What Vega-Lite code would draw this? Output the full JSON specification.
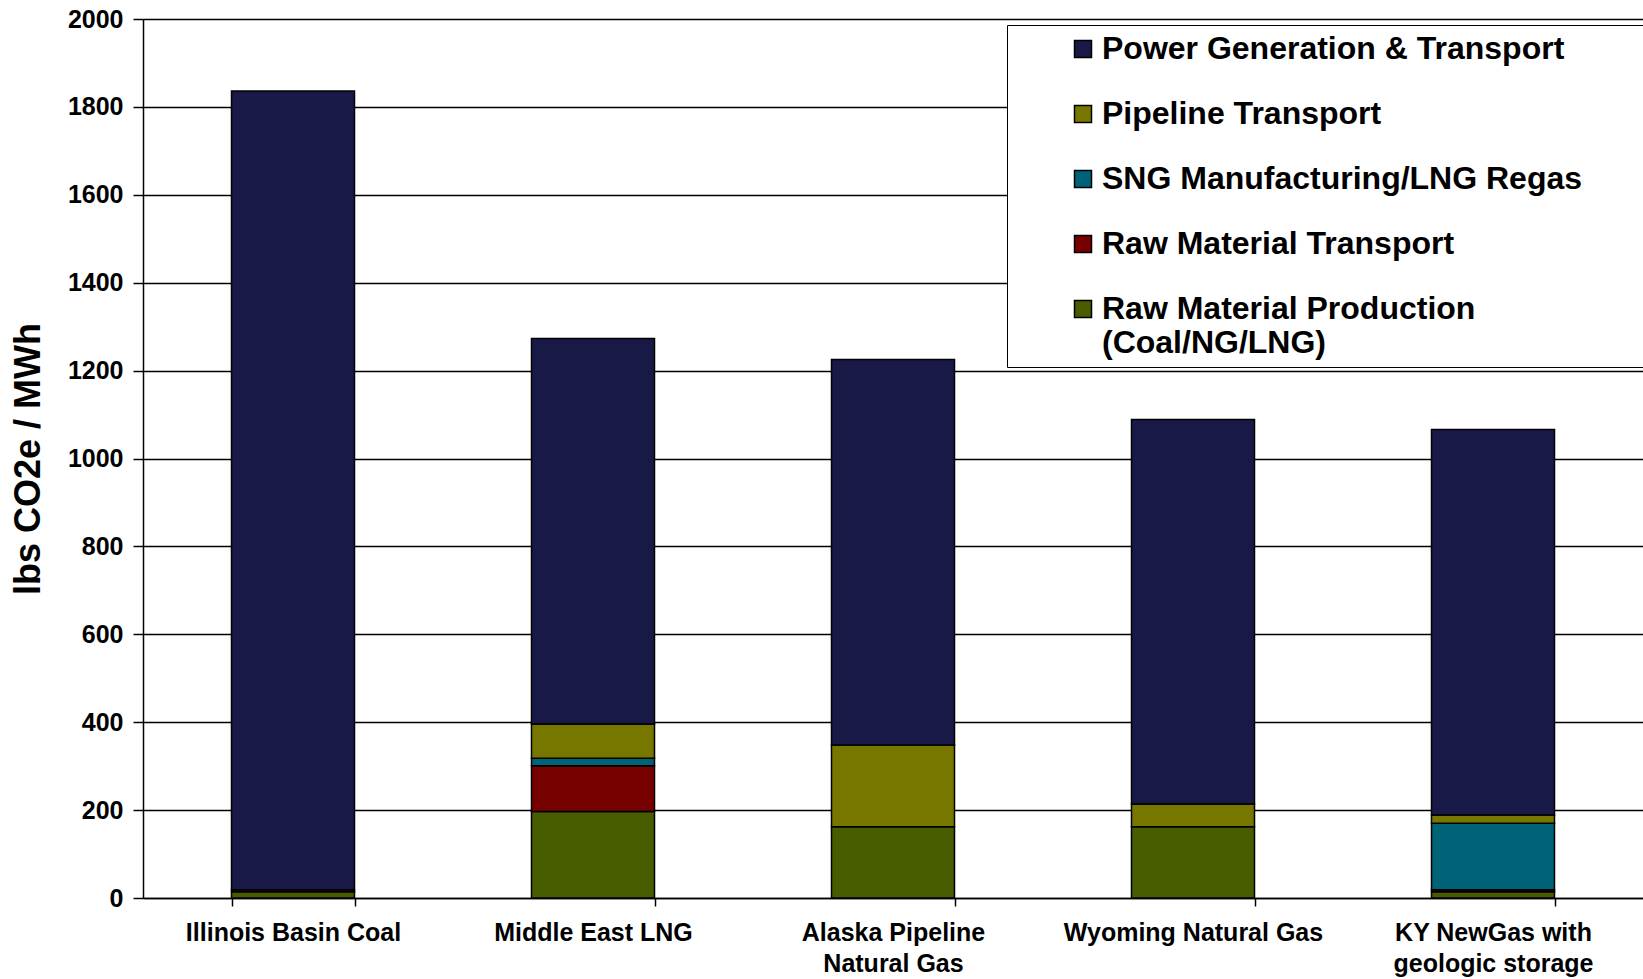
{
  "$schema": "https://vega.github.io/schema/vega-lite/v6.json",
  "width": 1500,
  "height": 879,
  "autosize": {"type": "none"},
  "padding": {"left": 143, "top": 19, "right": 0, "bottom": 81},
  "background": "white",
  "config": {
    "view": {"stroke": null},
    "font": "Liberation Sans"
  },
  "data": {
    "values": [
      {"src": "Illinois Basin Coal", "seg": "Raw Material Production (Coal/NG/LNG)", "v": 14},
      {"src": "Illinois Basin Coal", "seg": "Raw Material Transport", "v": 5},
      {"src": "Illinois Basin Coal", "seg": "Power Generation & Transport", "v": 1817},
      {"src": "Middle East LNG", "seg": "Raw Material Production (Coal/NG/LNG)", "v": 197},
      {"src": "Middle East LNG", "seg": "Raw Material Transport", "v": 104},
      {"src": "Middle East LNG", "seg": "SNG Manufacturing/LNG Regas", "v": 17},
      {"src": "Middle East LNG", "seg": "Pipeline Transport", "v": 78},
      {"src": "Middle East LNG", "seg": "Power Generation & Transport", "v": 877},
      {"src": "Alaska Pipeline Natural Gas", "seg": "Raw Material Production (Coal/NG/LNG)", "v": 162},
      {"src": "Alaska Pipeline Natural Gas", "seg": "Pipeline Transport", "v": 186},
      {"src": "Alaska Pipeline Natural Gas", "seg": "Power Generation & Transport", "v": 877},
      {"src": "Wyoming Natural Gas", "seg": "Raw Material Production (Coal/NG/LNG)", "v": 162},
      {"src": "Wyoming Natural Gas", "seg": "Pipeline Transport", "v": 52},
      {"src": "Wyoming Natural Gas", "seg": "Power Generation & Transport", "v": 875},
      {"src": "KY NewGas with geologic storage", "seg": "Raw Material Production (Coal/NG/LNG)", "v": 14},
      {"src": "KY NewGas with geologic storage", "seg": "Raw Material Transport", "v": 5},
      {"src": "KY NewGas with geologic storage", "seg": "SNG Manufacturing/LNG Regas", "v": 151},
      {"src": "KY NewGas with geologic storage", "seg": "Pipeline Transport", "v": 19},
      {"src": "KY NewGas with geologic storage", "seg": "Power Generation & Transport", "v": 877}
    ]
  },
  "transform": [
    {"calculate": "indexof(['Raw Material Production (Coal/NG/LNG)', 'Raw Material Transport', 'SNG Manufacturing/LNG Regas', 'Pipeline Transport', 'Power Generation & Transport'], datum.seg)", "as": "k"}
  ],
  "mark": {"type": "bar", "stroke": "black", "strokeWidth": 1.5},
  "encoding": {
    "x": {
      "field": "src",
      "type": "nominal",
      "sort": null,
      "scale": {"paddingInner": 0.59, "paddingOuter": 0.295},
      "axis": {
        "title": null,
        "labelAngle": 0,
        "labelFontSize": 25,
        "labelFontWeight": "bold",
        "labelColor": "black",
        "labelLineHeight": 31,
        "labelPadding": 14,
        "labelExpr": "datum.label == 'Alaska Pipeline Natural Gas' ? ['Alaska Pipeline', 'Natural Gas'] : datum.label == 'KY NewGas with geologic storage' ? ['KY NewGas with', 'geologic storage'] : datum.label",
        "tickBand": "extent",
        "tickSize": 8,
        "tickColor": "black",
        "tickWidth": 1.5,
        "domainColor": "black",
        "domainWidth": 1.5,
        "labelLimit": 400
      }
    },
    "y": {
      "field": "v",
      "type": "quantitative",
      "stack": "zero",
      "scale": {"domain": [0, 2000], "nice": false},
      "axis": {
        "title": "lbs CO2e / MWh",
        "titleFontSize": 36,
        "titleFontWeight": "bold",
        "titleColor": "black",
        "titlePadding": 20,
        "values": [0, 200, 400, 600, 800, 1000, 1200, 1400, 1600, 1800, 2000],
        "format": "d",
        "labelFontSize": 25,
        "labelFontWeight": "bold",
        "labelColor": "black",
        "labelPadding": 10,
        "tickSize": 10,
        "tickColor": "black",
        "tickWidth": 1.5,
        "domainColor": "black",
        "domainWidth": 1.5,
        "grid": true,
        "gridColor": "black",
        "gridWidth": 1.5
      }
    },
    "color": {
      "field": "seg",
      "type": "nominal",
      "scale": {
        "domain": ["Power Generation & Transport", "Pipeline Transport", "SNG Manufacturing/LNG Regas", "Raw Material Transport", "Raw Material Production (Coal/NG/LNG)"],
        "range": ["#191947", "#777700", "#006277", "#770000", "#475d00"]
      },
      "legend": {
        "title": " ",
        "titleOrient": "right",
        "titlePadding": 54,
        "orient": "none",
        "legendX": 864,
        "legendY": 6,
        "direction": "vertical",
        "labelFontSize": 32,
        "labelFontWeight": "bold",
        "labelColor": "black",
        "labelLimit": 800,
        "labelExpr": "datum.label == 'Raw Material Production (Coal/NG/LNG)' ? ['Raw Material Production', '(Coal/NG/LNG)'] : datum.label",
        "symbolType": "square",
        "symbolSize": 289,
        "symbolStrokeColor": "black",
        "symbolStrokeWidth": 1.5,
        "symbolOpacity": 1,
        "symbolOffset": 52,
        "labelOffset": 3,
        "strokeColor": "black",
        "fillColor": "white",
        "padding": 8,
        "rowPadding": 33
      }
    },
    "order": {"field": "k", "type": "quantitative", "sort": "ascending"}
  }
}
